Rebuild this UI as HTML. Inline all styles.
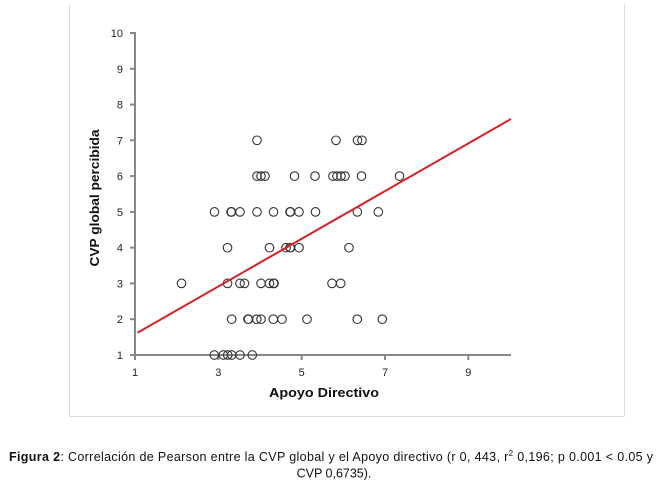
<!DOCTYPE html>
<html><head><meta charset="utf-8"><style>
html,body{margin:0;padding:0;background:#fff;}
svg{display:block;}
</style></head><body>
<svg width="665" height="489" viewBox="0 0 665 489" xmlns="http://www.w3.org/2000/svg">
<rect width="665" height="489" fill="#fff"/>
<!-- frame -->
<g stroke="#dcdcdc" stroke-width="1" fill="none">
<line x1="69.5" y1="4" x2="69.5" y2="416.5"/>
<line x1="624.5" y1="4" x2="624.5" y2="416.5"/>
<line x1="69.5" y1="416.5" x2="624.5" y2="416.5"/>
</g>
<!-- axes -->
<g stroke="#878787" stroke-width="2" fill="none">
<line x1="135" y1="32" x2="135" y2="356"/>
<line x1="134" y1="355" x2="511" y2="355"/>
<line x1="130" y1="33" x2="135" y2="33"/>
<line x1="130" y1="68.8" x2="135" y2="68.8"/>
<line x1="130" y1="104.6" x2="135" y2="104.6"/>
<line x1="130" y1="140.3" x2="135" y2="140.3"/>
<line x1="130" y1="176.1" x2="135" y2="176.1"/>
<line x1="130" y1="211.9" x2="135" y2="211.9"/>
<line x1="130" y1="247.7" x2="135" y2="247.7"/>
<line x1="130" y1="283.4" x2="135" y2="283.4"/>
<line x1="130" y1="319.2" x2="135" y2="319.2"/>
<line x1="130" y1="355" x2="135" y2="355"/>
<line x1="135" y1="355" x2="135" y2="360"/>
<line x1="218.3" y1="355" x2="218.3" y2="360"/>
<line x1="301.7" y1="355" x2="301.7" y2="360"/>
<line x1="385" y1="355" x2="385" y2="360"/>
<line x1="468.3" y1="355" x2="468.3" y2="360"/>
</g>
<!-- y tick labels -->
<g font-family="Liberation Sans, sans-serif" font-size="11" fill="#222" text-anchor="end">
<text x="123" y="37">10</text>
<text x="123" y="72.8">9</text>
<text x="123" y="108.6">8</text>
<text x="123" y="144.3">7</text>
<text x="123" y="180.1">6</text>
<text x="123" y="215.9">5</text>
<text x="123" y="251.7">4</text>
<text x="123" y="287.4">3</text>
<text x="123" y="323.2">2</text>
<text x="123" y="359">1</text>
</g>
<g font-family="Liberation Sans, sans-serif" font-size="11" fill="#222" text-anchor="middle">
<text x="135" y="376">1</text>
<text x="218.3" y="376">3</text>
<text x="301.7" y="376">5</text>
<text x="385" y="376">7</text>
<text x="468.3" y="376">9</text>
</g>
<!-- axis titles -->
<text x="324" y="397" font-family="Liberation Sans, sans-serif" font-size="13" font-weight="bold" fill="#111" text-anchor="middle" textLength="110" lengthAdjust="spacingAndGlyphs">Apoyo Directivo</text>
<text transform="translate(99,198) rotate(-90)" x="0" y="0" font-family="Liberation Sans, sans-serif" font-size="13" font-weight="bold" fill="#111" text-anchor="middle" textLength="137" lengthAdjust="spacingAndGlyphs">CVP global percibida</text>
<!-- points -->
<g fill="none" stroke="#333" stroke-width="1.1">
<!-- y=7 -->
<circle cx="257" cy="140.3" r="4.3"/>
<circle cx="336" cy="140.3" r="4.3"/>
<circle cx="357.5" cy="140.3" r="4.3"/>
<circle cx="362" cy="140.3" r="4.3"/>
<!-- y=6 -->
<circle cx="257" cy="176.1" r="4.3"/>
<circle cx="261" cy="176.1" r="4.3"/>
<circle cx="265" cy="176.1" r="4.3"/>
<circle cx="294.5" cy="176.1" r="4.3"/>
<circle cx="315" cy="176.1" r="4.3"/>
<circle cx="333" cy="176.1" r="4.3"/>
<circle cx="337" cy="176.1" r="4.3"/>
<circle cx="341" cy="176.1" r="4.3"/>
<circle cx="345" cy="176.1" r="4.3"/>
<circle cx="361.5" cy="176.1" r="4.3"/>
<circle cx="399.5" cy="176.1" r="4.3"/>
<!-- y=5 -->
<circle cx="214.5" cy="211.9" r="4.3"/>
<circle cx="231" cy="211.9" r="4.3"/>
<circle cx="231.5" cy="211.9" r="4.3"/>
<circle cx="240" cy="211.9" r="4.3"/>
<circle cx="257" cy="211.9" r="4.3"/>
<circle cx="273.5" cy="211.9" r="4.3"/>
<circle cx="290" cy="211.9" r="4.3"/>
<circle cx="290.5" cy="211.9" r="4.3"/>
<circle cx="299" cy="211.9" r="4.3"/>
<circle cx="315.5" cy="211.9" r="4.3"/>
<circle cx="357.3" cy="211.9" r="4.3"/>
<circle cx="378.3" cy="211.9" r="4.3"/>
<!-- y=4 -->
<circle cx="227.5" cy="247.7" r="4.3"/>
<circle cx="269.5" cy="247.7" r="4.3"/>
<circle cx="286" cy="247.7" r="4.3"/>
<circle cx="290" cy="247.7" r="4.3"/>
<circle cx="290.5" cy="247.7" r="4.3"/>
<circle cx="299" cy="247.7" r="4.3"/>
<circle cx="349" cy="247.7" r="4.3"/>
<!-- y=3 -->
<circle cx="181.5" cy="283.4" r="4.3"/>
<circle cx="227.5" cy="283.4" r="4.3"/>
<circle cx="240" cy="283.4" r="4.3"/>
<circle cx="244.5" cy="283.4" r="4.3"/>
<circle cx="261" cy="283.4" r="4.3"/>
<circle cx="269.5" cy="283.4" r="4.3"/>
<circle cx="273.5" cy="283.4" r="4.3"/>
<circle cx="274" cy="283.4" r="4.3"/>
<circle cx="332" cy="283.4" r="4.3"/>
<circle cx="340.7" cy="283.4" r="4.3"/>
<!-- y=2 -->
<circle cx="231.7" cy="319.2" r="4.3"/>
<circle cx="248" cy="319.2" r="4.3"/>
<circle cx="248.5" cy="319.2" r="4.3"/>
<circle cx="256.7" cy="319.2" r="4.3"/>
<circle cx="261" cy="319.2" r="4.3"/>
<circle cx="273.3" cy="319.2" r="4.3"/>
<circle cx="282" cy="319.2" r="4.3"/>
<circle cx="307" cy="319.2" r="4.3"/>
<circle cx="357.3" cy="319.2" r="4.3"/>
<circle cx="382.3" cy="319.2" r="4.3"/>
<!-- y=1 -->
<circle cx="214.3" cy="355" r="4.3"/>
<circle cx="223.3" cy="355" r="4.3"/>
<circle cx="227.7" cy="355" r="4.3"/>
<circle cx="231.7" cy="355" r="4.3"/>
<circle cx="240" cy="355" r="4.3"/>
<circle cx="252.3" cy="355" r="4.3"/>
</g>
<!-- trend line -->
<line x1="137.5" y1="332.7" x2="511" y2="119" stroke="#d42224" stroke-width="2"/>
<!-- caption -->
<text x="9" y="461" font-family="Liberation Sans, sans-serif" font-size="12.5" fill="#111" textLength="644" lengthAdjust="spacing"><tspan font-weight="bold">Figura 2</tspan>: Correlación de Pearson entre la CVP global y el Apoyo directivo (r 0, 443, r<tspan font-size="8" dy="-5">2</tspan><tspan dy="5"> 0,196; p 0.001 &lt; 0.05 y</tspan></text>
<text x="334" y="477.5" font-family="Liberation Sans, sans-serif" font-size="12.5" fill="#111" text-anchor="middle">CVP 0,6735).</text>
</svg>
</body></html>
